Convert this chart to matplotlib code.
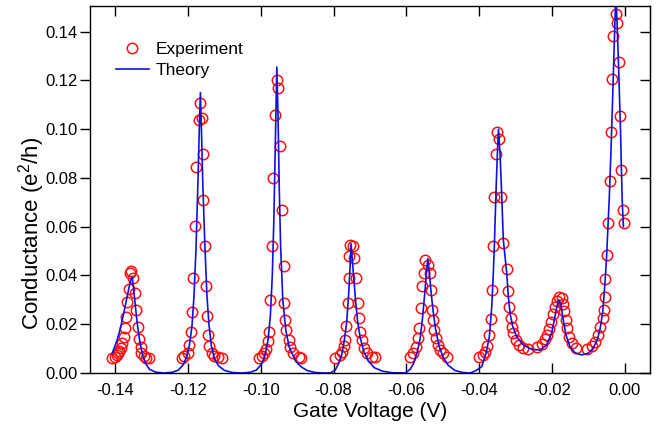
import matplotlib
matplotlib.use("Agg")
import matplotlib.pyplot as plt

plt.rcParams['font.family'] = ['Liberation Sans', 'DejaVu Sans']
plt.rcParams['mathtext.fontset'] = 'custom'
plt.rcParams['mathtext.rm'] = 'Liberation Sans'

# experiment: gate voltage (V) and conductance (e^2/h), peak by peak
exp_v = [
    # peak 1
    -0.14080, -0.14008, -0.13962, -0.13916, -0.13880, -0.13844, -0.13806, -0.13762,
    -0.13734, -0.13696, -0.13669, -0.13625, -0.13578, -0.13551, -0.13504, -0.13460,
    -0.13413, -0.13378, -0.13350, -0.13303, -0.13276, -0.13213, -0.13139, -0.13076,
    # peak 2
    -0.12162, -0.12097, -0.12007, -0.11960, -0.11906, -0.11887, -0.11851, -0.11796,
    -0.11769, -0.11706, -0.11678, -0.11612, -0.11596, -0.11585, -0.11540, -0.11502,
    -0.11475, -0.11447, -0.11411, -0.11337, -0.11274, -0.11164, -0.11063,
    # peak 3
    -0.10039, -0.09957, -0.09902, -0.09847, -0.09806, -0.09779, -0.09738, -0.09697,
    -0.09656, -0.09601, -0.09559, -0.09518, -0.09463, -0.09422, -0.09372, -0.09353,
    -0.09326, -0.09298, -0.09235, -0.09189, -0.09115, -0.08962, -0.08896,
    # peak 4
    -0.07955, -0.07837, -0.07771, -0.07727, -0.07680, -0.07653, -0.07617, -0.07590,
    -0.07571, -0.07543, -0.07470, -0.07434, -0.07379, -0.07343, -0.07296, -0.07269,
    -0.07223, -0.07159, -0.07069, -0.06948, -0.06857,
    # peak 5
    -0.05897, -0.05806, -0.05743, -0.05688, -0.05650, -0.05606, -0.05560, -0.05513,
    -0.05486, -0.05415, -0.05349, -0.05322, -0.05285, -0.05258, -0.05230, -0.05195,
    -0.05140, -0.05074, -0.04984, -0.04893,
    # peak 6
    -0.03997, -0.03887, -0.03840, -0.03794, -0.03730, -0.03676, -0.03640, -0.03613,
    -0.03593, -0.03552, -0.03511, -0.03470, -0.03415, -0.03338, -0.03245, -0.03218,
    -0.03174, -0.03135, -0.03108, -0.03072, -0.02990, -0.02899,
    # valley and peak 7
    -0.02790, -0.02652, -0.02406, -0.02285, -0.02194, -0.02131, -0.02076, -0.02038,
    -0.01983, -0.01920, -0.01873, -0.01802, -0.01736, -0.01692, -0.01665, -0.01618,
    -0.01583, -0.01528, -0.01462, -0.01344,
    # valley and peak 8
    -0.01051, -0.00913, -0.00823, -0.00749, -0.00686, -0.00612, -0.00576, -0.00549,
    -0.00549, -0.00502, -0.00458, -0.00411, -0.00384, -0.00348, -0.00321, -0.00255,
    -0.00211, -0.00165, -0.00137, -0.00110, -0.00055, -0.00014,
]
exp_g = [
    # peak 1
    0.0060, 0.0067, 0.0074, 0.0081, 0.0090, 0.0101, 0.0122, 0.0149,
    0.0184, 0.0231, 0.0293, 0.0344, 0.0409, 0.0420, 0.0389, 0.0327,
    0.0259, 0.0188, 0.0138, 0.0106, 0.0083, 0.0070, 0.0063, 0.0060,
    # peak 2
    0.0060, 0.0068, 0.0081, 0.0115, 0.0170, 0.0252, 0.0390, 0.0601,
    0.0843, 0.1039, 0.1108, 0.1046, 0.0898, 0.0710, 0.0519, 0.0355,
    0.0234, 0.0156, 0.0110, 0.0082, 0.0070, 0.0066, 0.0062,
    # peak 3
    0.0060, 0.0070, 0.0080, 0.0100, 0.0130, 0.0170, 0.0300, 0.0520,
    0.0800, 0.1060, 0.1200, 0.1170, 0.0930, 0.0670, 0.0440, 0.0289,
    0.0218, 0.0177, 0.0136, 0.0108, 0.0081, 0.0064, 0.0060,
    # peak 4
    0.0060, 0.0074, 0.0087, 0.0110, 0.0136, 0.0193, 0.0286, 0.0389,
    0.0478, 0.0526, 0.0519, 0.0471, 0.0389, 0.0286, 0.0225, 0.0170,
    0.0136, 0.0101, 0.0081, 0.0067, 0.0064,
    # peak 5
    0.0064, 0.0083, 0.0108, 0.0142, 0.0183, 0.0266, 0.0357, 0.0410,
    0.0464, 0.0444, 0.0410, 0.0341, 0.0259, 0.0218, 0.0177, 0.0142,
    0.0115, 0.0094, 0.0081, 0.0067,
    # peak 6
    0.0064, 0.0074, 0.0088, 0.0110, 0.0156, 0.0222, 0.0341, 0.0519,
    0.0720, 0.0900, 0.0990, 0.0960, 0.0720, 0.0533, 0.0426, 0.0338,
    0.0272, 0.0225, 0.0190, 0.0164, 0.0136, 0.0115,
    # valley and peak 7
    0.0101, 0.0097, 0.0106, 0.0119, 0.0138, 0.0156, 0.0180, 0.0211,
    0.0242, 0.0272, 0.0297, 0.0313, 0.0307, 0.0283, 0.0255, 0.0218,
    0.0184, 0.0149, 0.0122, 0.0104,
    # valley and peak 8
    0.0097, 0.0111, 0.0129, 0.0156, 0.0188, 0.0225, 0.0259, 0.0311,
    0.0385, 0.0485, 0.0615, 0.0786, 0.0988, 0.1206, 0.1381, 0.1473,
    0.1436, 0.1274, 0.1053, 0.0834, 0.0670, 0.0615,
]

# theory curve
th_v = [
    # peak 1
    -0.14082, -0.14018, -0.13936, -0.13853, -0.13771, -0.13688, -0.13619, -0.13565,
    -0.13532, -0.13496, -0.13455, -0.13413, -0.13372, -0.13318, -0.13249, -0.13166,
    -0.13057, -0.12892, -0.12673,
    # peak 2
    -0.12426, -0.12261, -0.12124, -0.12042, -0.11959, -0.11891, -0.11836, -0.11781,
    -0.11726, -0.11685, -0.11658, -0.11630, -0.11589, -0.11534, -0.11479, -0.11424,
    -0.11356, -0.11274, -0.11164, -0.11000, -0.10780, -0.10506,
    # peak 3
    -0.10286, -0.10122, -0.09985, -0.09889, -0.09806, -0.09738, -0.09683, -0.09642,
    -0.09601, -0.09559, -0.09526, -0.09491, -0.09455, -0.09395, -0.09312, -0.09216,
    -0.09134, -0.09024, -0.08887, -0.08723, -0.08503, -0.08284,
    # peak 4
    -0.08092, -0.07955, -0.07859, -0.07776, -0.07708, -0.07639, -0.07584, -0.07543,
    -0.07521, -0.07488, -0.07447, -0.07392, -0.07338, -0.07269, -0.07173, -0.07050,
    -0.06885, -0.06665, -0.06391, -0.06117,
    # peak 5
    -0.06035, -0.05897, -0.05801, -0.05705, -0.05623, -0.05555, -0.05500, -0.05450,
    -0.05412, -0.05376, -0.05321, -0.05267, -0.05198, -0.05102, -0.04992, -0.04855,
    -0.04663, -0.04444, -0.04252,
    # peak 6
    -0.04115, -0.03931, -0.03813, -0.03722, -0.03656, -0.03613, -0.03585, -0.03538,
    -0.03497, -0.03470, -0.03429, -0.03388, -0.03338, -0.03292, -0.03245, -0.03201,
    -0.03154, -0.03080, -0.02971, -0.02790, -0.02559,
    # peak 7
    -0.02332, -0.02148, -0.02011, -0.01920, -0.01857, -0.01810, -0.01756, -0.01692,
    -0.01618, -0.01509, -0.01372, -0.01188,
    # peak 8
    -0.01007, -0.00870, -0.00760, -0.00686, -0.00612, -0.00568, -0.00529, -0.00502,
    -0.00466, -0.00431, -0.00384, -0.00329, -0.00288, -0.00247, -0.00206, -0.00165,
    -0.00123, -0.00074, -0.00041,
]
th_g = [
    # peak 1
    0.0081, 0.0105, 0.0140, 0.0185, 0.0240, 0.0300, 0.0350, 0.0385,
    0.0395, 0.0350, 0.0290, 0.0230, 0.0180, 0.0125, 0.0075, 0.0040,
    0.0015, 0.0004, 0.0000,
    # peak 2
    0.0003, 0.0012, 0.0035, 0.0065, 0.0115, 0.0190, 0.0310, 0.0500,
    0.0780, 0.1020, 0.1150, 0.1000, 0.0760, 0.0520, 0.0320, 0.0200,
    0.0110, 0.0060, 0.0030, 0.0011, 0.0002, 0.0000,
    # peak 3
    0.0003, 0.0012, 0.0035, 0.0070, 0.0130, 0.0230, 0.0400, 0.0620,
    0.0930, 0.1255, 0.1050, 0.0750, 0.0520, 0.0300, 0.0175, 0.0105,
    0.0078, 0.0045, 0.0025, 0.0010, 0.0002, 0.0000,
    # peak 4
    0.0000, 0.0012, 0.0040, 0.0075, 0.0130, 0.0210, 0.0330, 0.0450,
    0.0530, 0.0470, 0.0390, 0.0290, 0.0210, 0.0145, 0.0090, 0.0050,
    0.0022, 0.0008, 0.0001, 0.0000,
    # peak 5
    0.0000, 0.0015, 0.0040, 0.0085, 0.0140, 0.0230, 0.0320, 0.0410,
    0.0470, 0.0420, 0.0330, 0.0255, 0.0180, 0.0110, 0.0065, 0.0032,
    0.0010, 0.0002, 0.0000,
    # peak 6
    0.0008, 0.0026, 0.0081, 0.0149, 0.0272, 0.0410, 0.0520, 0.0750,
    0.0920, 0.1000, 0.0900, 0.0750, 0.0546, 0.0478, 0.0410, 0.0313,
    0.0245, 0.0190, 0.0149, 0.0115, 0.0097,
    # peak 7
    0.0094, 0.0115, 0.0163, 0.0231, 0.0279, 0.0300, 0.0279, 0.0218,
    0.0156, 0.0108, 0.0083, 0.0074,
    # peak 8
    0.0081, 0.0101, 0.0136, 0.0177, 0.0245, 0.0327, 0.0410, 0.0478,
    0.0600, 0.0710, 0.0900, 0.1160, 0.1370, 0.1560, 0.1400, 0.1220,
    0.1010, 0.0710, 0.0600,
]

xticks = [-0.14, -0.12, -0.10, -0.08, -0.06, -0.04, -0.02, 0.00]
yticks = [0.00, 0.02, 0.04, 0.06, 0.08, 0.10, 0.12, 0.14]

fig = plt.figure(figsize=(6.72, 4.32), dpi=100)
ax = fig.add_axes([90/672, 59/432, 560/672, 367/432])

ax.plot(exp_v, exp_g, 'o', mfc='none', mec='#ff1010', ms=7.5, mew=1.1, label='Experiment')
ax.plot(th_v, th_g, '-', color='#1010e0', lw=1.2, label='Theory')

ax.set_xlim(-0.1469, 0.0069)
ax.set_ylim(0, 0.1505)
ax.set_xticks(xticks)
ax.set_yticks(yticks)
ax.set_xticklabels(['%.2f' % t for t in xticks])
ax.set_yticklabels(['%.2f' % t for t in yticks])
ax.tick_params(axis='x', direction='in', top=True, length=7, width=1, labelsize=12, pad=7)
ax.tick_params(axis='y', direction='out', right=False, length=7, width=1, labelsize=12, pad=2)
sec = ax.secondary_yaxis('right')
sec.set_yticks(yticks)
sec.tick_params(direction='in', length=7, width=1, labelright=False)
for s in ax.spines.values():
    s.set_linewidth(1)

ax.set_xlabel('Gate Voltage (V)', fontsize=15, labelpad=3)
ax.set_ylabel('Conductance (e$^\\mathregular{2}$/h)', fontsize=16)
ax.yaxis.set_label_coords(-0.076, 0.38)

ax.legend(loc='upper left', bbox_to_anchor=(0.046, 0.902), frameon=False, fontsize=12.5,
          borderpad=0, borderaxespad=0, handlelength=1.9, handletextpad=0.4,
          labelspacing=0.32, numpoints=1)

fig.savefig('out.png', dpi=100)
